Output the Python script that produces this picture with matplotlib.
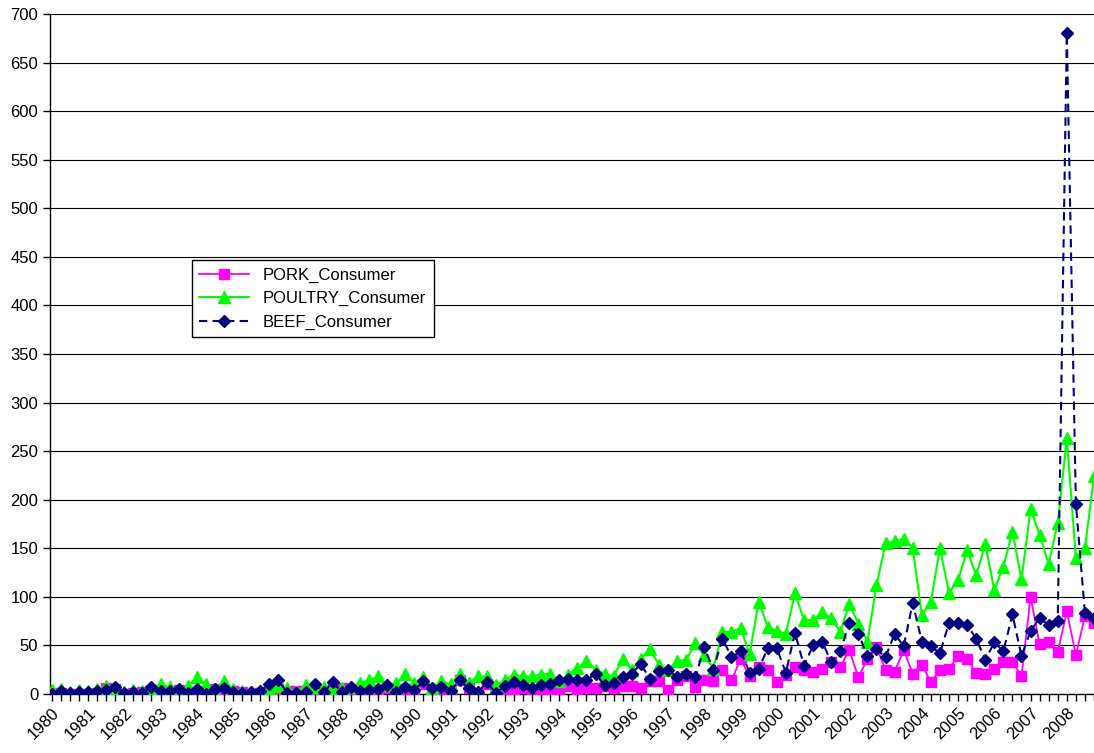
import numpy as np
import matplotlib
matplotlib.use('Agg')
import matplotlib.pyplot as plt

# quarterly series, 1980 Q1 .. 2008 Q4
years = list(range(1980, 2009))

pork = [1, 1, 0, 0, 0, 1, 6, 5, 0, 1,
        2, 4, 3, 2, 4, 1, 0, 3, 5, 4,
        3, 2, 0, 1, 5, 5, 3, 3, 3, 4,
        3, 5, 6, 4, 5, 5, 4, 6, 3, 5,
        0, 10, 5, 5, 0, 14, 6, 1, 10, 3,
        2, 5, 6, 2, 4, 4, 4, 8, 4, 6,
        6, 8, 6, 8, 8, 6, 13, 13, 4, 14,
        18, 7, 14, 13, 25, 14, 36, 18, 28, 25,
        12, 20, 28, 25, 23, 26, 33, 28, 45, 17,
        36, 48, 25, 23, 45, 21, 30, 12, 25, 26,
        39, 36, 22, 21, 26, 33, 33, 18, 100, 51,
        54, 43, 85, 40, 80, 73]

poultry = [4, 5, 2, 4, 3, 5, 8, 6, 2, 4,
           3, 5, 10, 7, 3, 8, 17, 10, 3, 13,
           5, 3, 2, 3, 5, 8, 6, 2, 9, 7,
           7, 6, 6, 7, 11, 14, 18, 9, 11, 21,
           11, 17, 6, 13, 10, 21, 11, 18, 18, 9,
           14, 20, 18, 18, 20, 21, 13, 20, 27, 34,
           25, 21, 18, 36, 25, 36, 46, 30, 25, 34,
           35, 52, 40, 26, 64, 64, 68, 41, 95, 69,
           65, 62, 104, 76, 76, 84, 78, 64, 93, 72,
           54, 112, 155, 157, 160, 150, 81, 95, 150, 104,
           117, 148, 122, 154, 107, 131, 167, 118, 190, 164,
           134, 176, 263, 140, 150, 224]

beef = [0, 3, 1, 2, 2, 3, 4, 7, 1, 2,
        1, 7, 3, 3, 5, 1, 5, 0, 5, 6,
        2, 1, 2, 3, 10, 14, 1, 1, 2, 10,
        2, 12, 2, 7, 3, 4, 5, 9, 2, 7,
        4, 13, 6, 7, 3, 14, 6, 2, 12, 1,
        8, 12, 9, 6, 9, 10, 14, 15, 14, 14,
        21, 9, 11, 17, 21, 31, 15, 24, 25, 17,
        21, 17, 48, 25, 57, 38, 44, 22, 26, 47,
        47, 22, 63, 29, 50, 54, 33, 44, 73, 62,
        39, 46, 38, 62, 49, 94, 54, 49, 42, 73,
        73, 71, 57, 35, 53, 44, 82, 39, 65, 78,
        71, 75, 680, 196, 83, 78]

plt.rcParams['font.family'] = ['Liberation Sans', 'DejaVu Sans']

x = np.arange(len(pork))

fig = plt.figure(figsize=(10.94, 7.53), dpi=100)
ax = fig.add_axes([0.0457, 0.0784, 0.9543, 0.903])

ax.plot(x, pork, '-', color='#FF00FF', lw=1.3, marker='s', ms=7.5,
        mec='#FF00FF', label='PORK_Consumer', zorder=3)
ax.plot(x, poultry, '-', color='#00FF00', lw=1.5, marker='^', ms=8.5,
        mec='#00FF00', label='POULTRY_Consumer', zorder=4)
ax.plot(x, beef, '--', color='#000080', lw=1.5, dashes=(4, 2.5),
        marker='D', ms=6.5, mec='#000080', label='BEEF_Consumer', zorder=5)

ax.set_ylim(0, 700)
ax.set_yticks(np.arange(0, 701, 50))
ax.set_xlim(-0.2, 115)

labels = [str(years[i // 4]) if i % 4 == 0 else '' for i in x]
ax.set_xticks(x)
ax.set_xticklabels(labels, rotation=45, ha='right', rotation_mode='anchor')

ax.grid(True, axis='y', color='#000000', lw=0.8)
ax.set_axisbelow(True)
ax.spines['top'].set_visible(False)
ax.spines['right'].set_visible(False)
ax.spines['left'].set_linewidth(1.0)
ax.spines['bottom'].set_linewidth(1.0)
ax.tick_params(axis='both', direction='out', length=5, width=1, labelsize=12, colors='black')
ax.tick_params(axis='x', pad=3)

leg = ax.legend(loc='upper left', bbox_to_anchor=(0.136, 0.638), borderaxespad=0,
                fontsize=12, handlelength=3.0, labelspacing=0.5, fancybox=False,
                framealpha=1, edgecolor='black', borderpad=0.45)
leg.get_frame().set_linewidth(1.0)

fig.savefig('out.png', dpi=100)
